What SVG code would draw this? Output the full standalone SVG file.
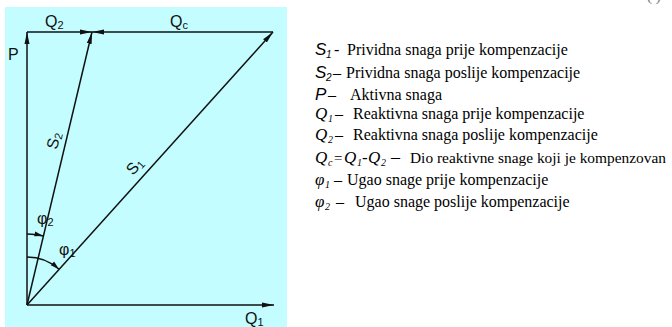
<svg xmlns="http://www.w3.org/2000/svg" width="672" height="327" viewBox="0 0 672 327">
<style>
.v{stroke:#111;stroke-width:1.5;fill:none}
.lb{font-family:"Liberation Sans",Arial,sans-serif;font-size:16px;fill:#111}
.sb{font-size:11px}
.d{font-family:"Liberation Serif","Times New Roman",serif;font-size:16px;fill:#000}
.si{font-family:"Liberation Sans",Arial,sans-serif;font-style:italic;font-size:17px;fill:#000}
.qi{font-family:"Liberation Serif","Times New Roman",serif;font-style:italic;font-size:17px;fill:#000}
.sub{font-size:10px}
</style>
<defs>
<marker id="ah" markerUnits="userSpaceOnUse" markerWidth="13" markerHeight="6" refX="12" refY="3" orient="auto">
<path d="M0,0.5 L12,3 L0,5.5 z" fill="#111"/>
</marker>
<marker id="as" markerUnits="userSpaceOnUse" markerWidth="10" markerHeight="6" refX="9" refY="3" orient="auto">
<path d="M0,0.5 L9,3 L0,5.5 z" fill="#111"/>
</marker>
</defs>
<rect x="5" y="7" width="282" height="320" fill="#c3fdff"/>
<g id="connectors">
<line class="v" x1="27" y1="305" x2="27" y2="32" marker-end="url(#ah)"/>
<line class="v" x1="27" y1="32" x2="92" y2="32" marker-end="url(#ah)"/>
<line class="v" x1="273" y1="32" x2="92" y2="32" marker-end="url(#ah)"/>
<line class="v" x1="27" y1="305" x2="92" y2="32" marker-end="url(#ah)"/>
<line class="v" x1="27" y1="305" x2="273" y2="32" marker-end="url(#ah)"/>
<line class="v" x1="27" y1="305" x2="274" y2="305" marker-end="url(#ah)"/>
<path class="v" d="M27,234 A71,71 0 0 1 43.4,235.9" marker-end="url(#as)"/>
<path class="v" d="M27,257 A48,48 0 0 1 59.1,269.3" marker-end="url(#as)"/>
</g>
<g id="labels">
<text class="lb" x="45" y="27">Q<tspan class="sb" dy="2">2</tspan></text>
<text class="lb" x="170" y="27">Q<tspan class="sb" dy="2">c</tspan></text>
<text class="lb" x="8" y="60">P</text>
<text class="lb" x="245" y="324">Q<tspan class="sb" dy="2">1</tspan></text>
<text class="lb" x="37" y="224">φ<tspan class="sb" dy="2">2</tspan></text>
<text class="lb" x="59" y="255">φ<tspan class="sb" dy="2">1</tspan></text>
<text class="lb" transform="translate(57,150) rotate(-76.6)">S<tspan class="sb" dy="2">2</tspan></text>
<text class="lb" transform="translate(133,176) rotate(-48)">S<tspan class="sb" dy="2">1</tspan></text>
</g>
<g id="legend">
<text class="si" x="315" y="55">S</text><text class="si sub" x="326" y="58">1</text><text class="d" x="334" y="55">-</text>
<text class="d" x="347" y="55">Prividna snaga prije kompenzacije</text>
<text class="si" x="315" y="78">S</text><text class="si sub" x="326" y="81">2</text><text class="d" x="333" y="78">–</text>
<text class="d" x="346" y="78">Prividna snaga poslije kompenzacije</text>
<text class="si" x="315" y="100">P</text><text class="d" x="328" y="100">–</text>
<text class="d" x="350" y="100">Aktivna snaga</text>
<text class="qi" x="315" y="119">Q</text><text class="qi sub" x="328" y="122">1</text><text class="d" x="335" y="119">–</text>
<text class="d" x="353" y="119">Reaktivna snaga prije kompenzacije</text>
<text class="qi" x="315" y="140">Q</text><text class="qi sub" x="328" y="143">2</text><text class="d" x="335" y="140">–</text>
<text class="d" x="353" y="140">Reaktivna snaga poslije kompenzacije</text>
<text class="qi" x="315" y="163">Q</text><text class="qi sub" x="328" y="166">c</text><text class="qi" x="333" y="163" style="font-size:15px">=</text><text class="qi" x="344" y="163">Q</text><text class="qi sub" x="357" y="166">1</text><text class="qi" x="362" y="163">-</text><text class="qi" x="368" y="163">Q</text><text class="qi sub" x="381" y="166">2</text><text class="d" x="391" y="163" style="font-size:18px">–</text>
<text class="d" x="410" y="163" style="font-size:15.4px">Dio reaktivne snage koji je kompenzovan</text>
<text class="qi" x="315" y="185">φ</text><text class="qi sub" x="325" y="188">1</text><text class="d" x="334" y="185">–</text>
<text class="d" x="347" y="185">Ugao snage prije kompenzacije</text>
<text class="qi" x="315" y="207">φ</text><text class="qi sub" x="325" y="210">2</text><text class="d" x="336" y="207">–</text>
<text class="d" x="355" y="207">Ugao snage poslije kompenzacije</text>
</g>
<text x="647" y="0.5" font-family="Liberation Serif,serif" font-size="15" fill="#777">(   )</text>
</svg>
